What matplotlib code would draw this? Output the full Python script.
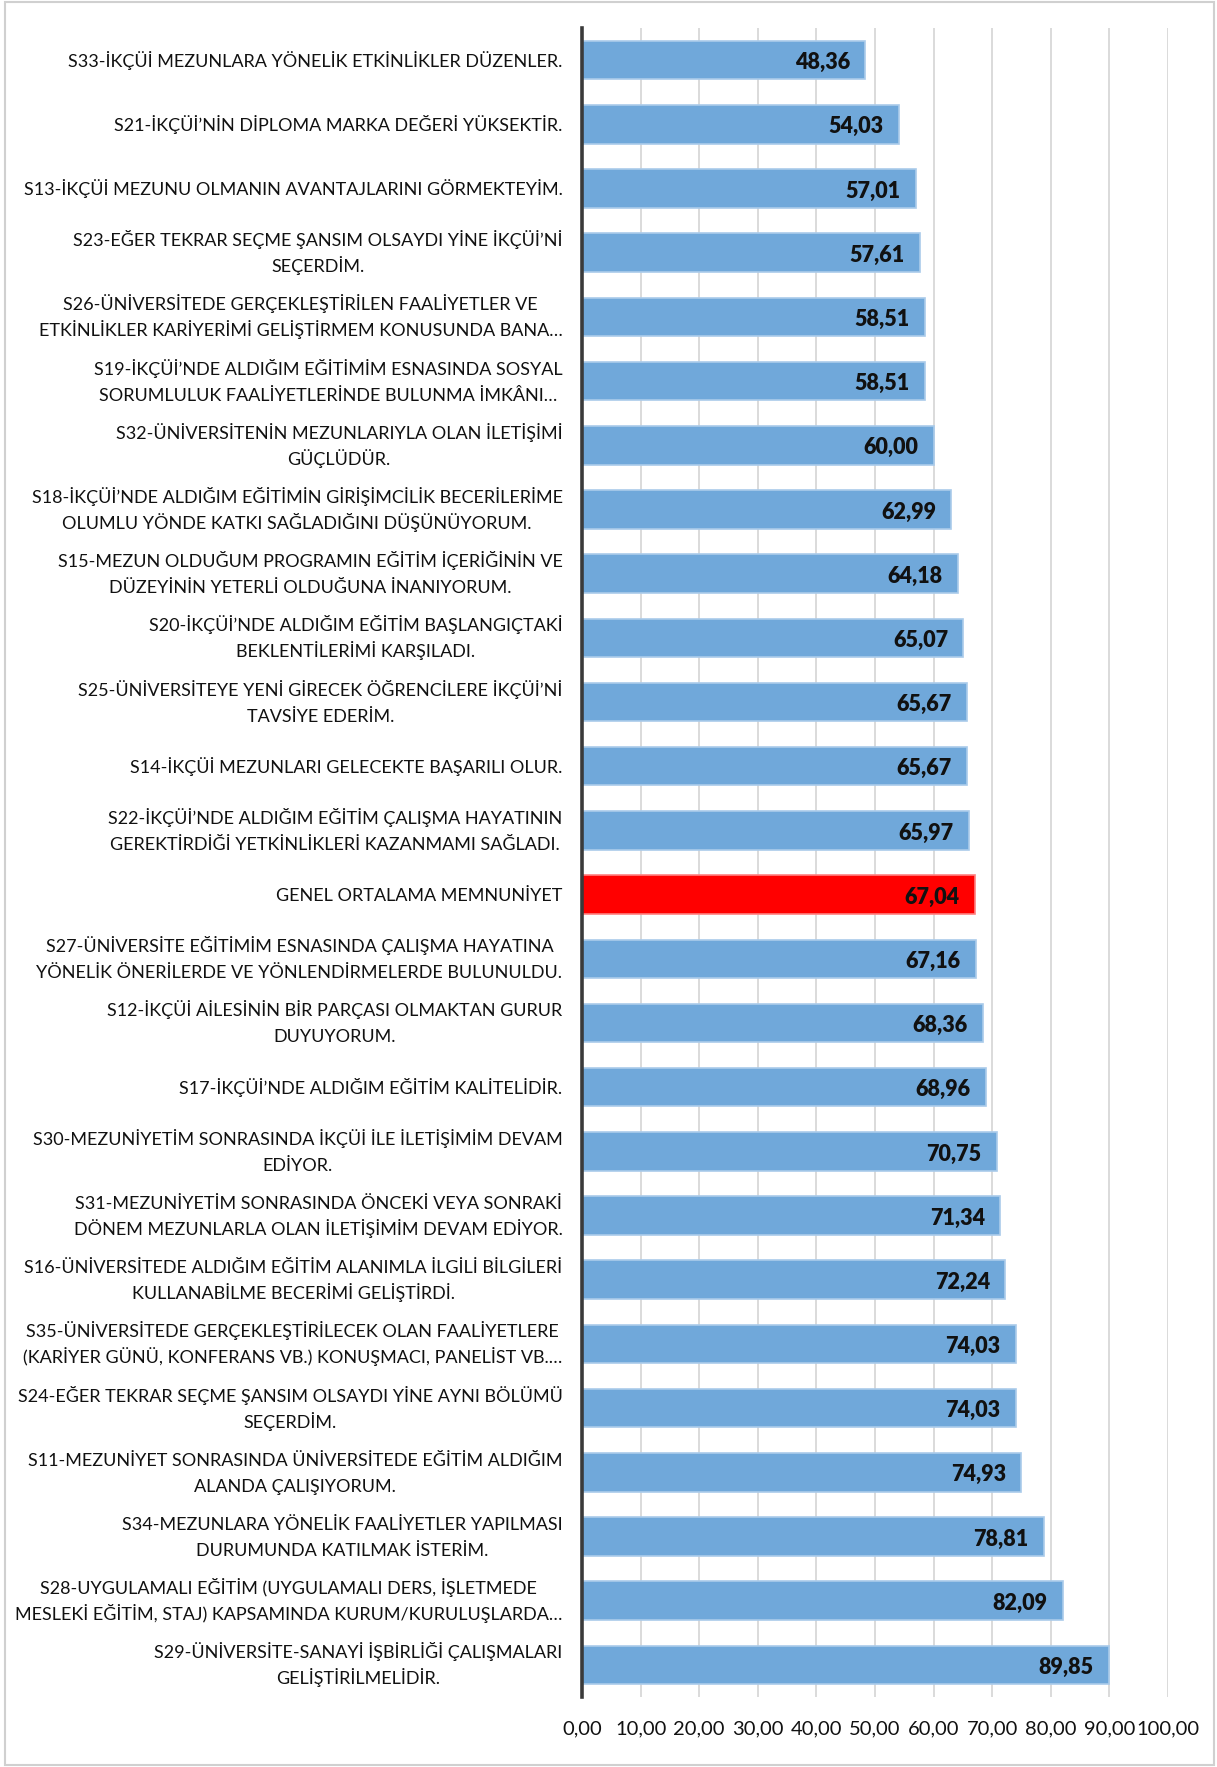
import matplotlib
matplotlib.use("Agg")
import matplotlib.pyplot as plt
from matplotlib.patches import Rectangle
from matplotlib import transforms as mtrans

plt.rcParams['font.family'] = ['Lato', 'DejaVu Sans']

categories = [
    "S33-İKÇÜİ MEZUNLARA YÖNELİK ETKİNLİKLER DÜZENLER.",
    "S21-İKÇÜİ’NİN DİPLOMA MARKA DEĞERİ YÜKSEKTİR.",
    "S13-İKÇÜİ MEZUNU OLMANIN AVANTAJLARINI GÖRMEKTEYİM.",
    "S23-EĞER TEKRAR SEÇME ŞANSIM OLSAYDI YİNE İKÇÜİ’Nİ\nSEÇERDİM.",
    "S26-ÜNİVERSİTEDE GERÇEKLEŞTİRİLEN FAALİYETLER VE\nETKİNLİKLER KARİYERİMİ GELİŞTİRMEM KONUSUNDA BANA…",
    "S19-İKÇÜİ’NDE ALDIĞIM EĞİTİMİM ESNASINDA SOSYAL\nSORUMLULUK FAALİYETLERİNDE BULUNMA İMKÂNI…",
    "S32-ÜNİVERSİTENİN MEZUNLARIYLA OLAN İLETİŞİMİ\nGÜÇLÜDÜR.",
    "S18-İKÇÜİ’NDE ALDIĞIM EĞİTİMİN GİRİŞİMCİLİK BECERİLERİME\nOLUMLU YÖNDE KATKI SAĞLADIĞINI DÜŞÜNÜYORUM.",
    "S15-MEZUN OLDUĞUM PROGRAMIN EĞİTİM İÇERİĞİNİN VE\nDÜZEYİNİN YETERLİ OLDUĞUNA İNANIYORUM.",
    "S20-İKÇÜİ’NDE ALDIĞIM EĞİTİM BAŞLANGIÇTAKİ\nBEKLENTİLERİMİ KARŞILADI.",
    "S25-ÜNİVERSİTEYE YENİ GİRECEK ÖĞRENCİLERE İKÇÜİ’Nİ\nTAVSİYE EDERİM.",
    "S14-İKÇÜİ MEZUNLARI GELECEKTE BAŞARILI OLUR.",
    "S22-İKÇÜİ’NDE ALDIĞIM EĞİTİM ÇALIŞMA HAYATININ\nGEREKTİRDİĞİ YETKİNLİKLERİ KAZANMAMI SAĞLADI.",
    "GENEL ORTALAMA MEMNUNİYET",
    "S27-ÜNİVERSİTE EĞİTİMİM ESNASINDA ÇALIŞMA HAYATINA\nYÖNELİK ÖNERİLERDE VE YÖNLENDİRMELERDE BULUNULDU.",
    "S12-İKÇÜİ AİLESİNİN BİR PARÇASI OLMAKTAN GURUR\nDUYUYORUM.",
    "S17-İKÇÜİ’NDE ALDIĞIM EĞİTİM KALİTELİDİR.",
    "S30-MEZUNİYETİM SONRASINDA İKÇÜİ İLE İLETİŞİMİM DEVAM\nEDİYOR.",
    "S31-MEZUNİYETİM SONRASINDA ÖNCEKİ VEYA SONRAKİ\nDÖNEM MEZUNLARLA OLAN İLETİŞİMİM DEVAM EDİYOR.",
    "S16-ÜNİVERSİTEDE ALDIĞIM EĞİTİM ALANIMLA İLGİLİ BİLGİLERİ\nKULLANABİLME BECERİMİ GELİŞTİRDİ.",
    "S35-ÜNİVERSİTEDE GERÇEKLEŞTİRİLECEK OLAN FAALİYETLERE\n(KARİYER GÜNÜ, KONFERANS VB.) KONUŞMACI, PANELİST VB.…",
    "S24-EĞER TEKRAR SEÇME ŞANSIM OLSAYDI YİNE AYNI BÖLÜMÜ\nSEÇERDİM.",
    "S11-MEZUNİYET SONRASINDA ÜNİVERSİTEDE EĞİTİM ALDIĞIM\nALANDA ÇALIŞIYORUM.",
    "S34-MEZUNLARA YÖNELİK FAALİYETLER YAPILMASI\nDURUMUNDA KATILMAK İSTERİM.",
    "S28-UYGULAMALI EĞİTİM (UYGULAMALI DERS, İŞLETMEDE\nMESLEKİ EĞİTİM, STAJ) KAPSAMINDA KURUM/KURULUŞLARDA…",
    "S29-ÜNİVERSİTE-SANAYİ İŞBİRLİĞİ ÇALIŞMALARI\nGELİŞTİRİLMELİDİR.",
]
values = [48.36, 54.03, 57.01, 57.61, 58.51, 58.51, 60.00, 62.99, 64.18, 65.07,
          65.67, 65.67, 65.97, 67.04, 67.16, 68.36, 68.96, 70.75, 71.34, 72.24,
          74.03, 74.03, 74.93, 78.81, 82.09, 89.85]
highlight = "GENEL ORTALAMA MEMNUNİYET"
xticks = [0, 10, 20, 30, 40, 50, 60, 70, 80, 90, 100]

W, H = 1217, 1767
fig = plt.figure(figsize=(W / 100, H / 100), dpi=100)
fig.patches.append(Rectangle((5 / W, 2 / H), (W - 8) / W, (H - 4) / H,
                             transform=fig.transFigure, fill=False,
                             edgecolor='#D0D0D0', linewidth=1.5))

left, right, top, bottom = 582, 1168, 28, 1697
ax = fig.add_axes([left / W, 1 - bottom / H, (right - left) / W, (bottom - top) / H])

colors = ['#FF0000' if c == highlight else '#70A8DA' for c in categories]
edges = ['#FF8080' if c == highlight else '#AACBEA' for c in categories]
y = list(range(len(categories)))
ax.barh(y, values, height=0.6, color=colors, edgecolor=edges, linewidth=1.2, zorder=3)

for yi, v in zip(y, values):
    ax.text(v - 2.6, yi + 0.04, f"{v:.2f}".replace('.', ','), ha='right', va='center',
            fontsize=15.5, fontweight='heavy', color='#111111', zorder=4)

ax.set_xlim(0, 100)
ax.set_ylim(len(categories) - 0.5, -0.5)
ax.set_xticks(xticks)
ax.set_xticklabels([f"{t:.2f}".replace('.', ',') for t in xticks], fontsize=14.5, color='#111111')
ax.set_yticks(y)
ax.set_yticklabels([])
ax.tick_params(axis='y', length=0)
ax.tick_params(axis='x', length=0, pad=17)
ax.grid(axis='x', color='#D4D4D4', linewidth=1.2, zorder=0)
ax.set_axisbelow(True)
for s in ['top', 'right', 'bottom']:
    ax.spines[s].set_visible(False)
ax.spines['left'].set_color('#3A3A3A')
ax.spines['left'].set_linewidth(2.6)
ax.spines['left'].set_zorder(5)

# category labels: right-aligned block, lines centred within block, fixed line gap
renderer = fig.canvas.get_renderer()
base = ax.get_yaxis_transform()
PAD = 19.5      # px from axis line to right edge of label block
GAP = 26.0      # px between baselines
CAPHALF = 6.5   # px from visual centre to baseline
for yi, cat in zip(y, categories):
    lines = cat.split('\n')
    n = len(lines)
    items = []
    for j, line in enumerate(lines):
        dy = ((n - 1) / 2 - j) * GAP - CAPHALF
        t = ax.text(0, yi, line, ha='right', va='baseline', fontsize=13, color='#111111',
                    transform=mtrans.offset_copy(base, fig=fig, x=-PAD, y=dy, units='dots'))
        items.append((t, dy))
    widths = [t.get_window_extent(renderer).width for t, _ in items]
    maxw = max(widths)
    for (t, dy), w in zip(items, widths):
        t.set_horizontalalignment('center')
        t.set_transform(mtrans.offset_copy(base, fig=fig, x=-PAD - maxw / 2, y=dy, units='dots'))

fig.savefig('out.png', dpi=100)
